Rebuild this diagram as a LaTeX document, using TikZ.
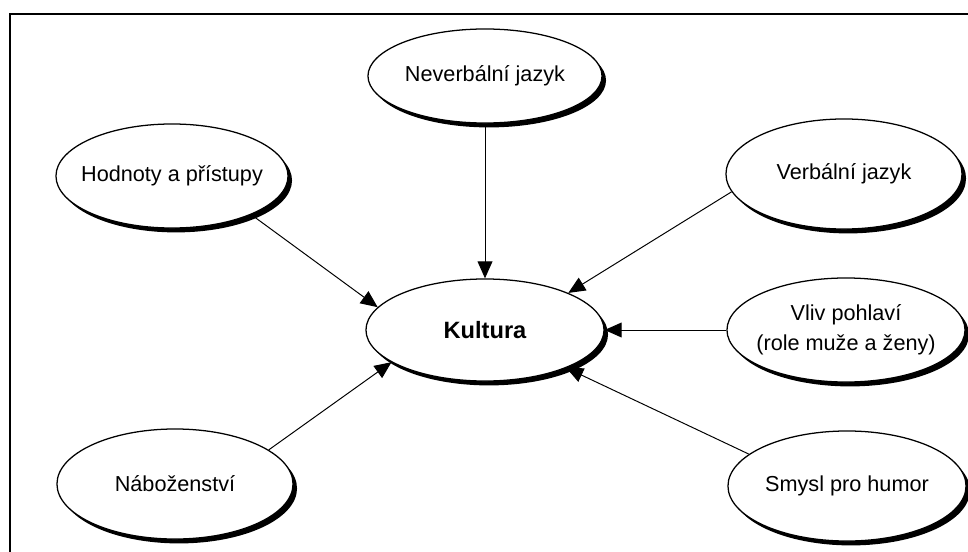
\documentclass[tikz,border=0pt]{standalone}
\usepackage{fontspec}
\setmainfont{Liberation Sans}
\usetikzlibrary{arrows.meta,shapes.geometric,shadows}
\tikzset{
  bublina/.style={ellipse, draw=black, line width=0.9pt, fill=white, inner sep=0pt,
    drop shadow={shadow xshift=1mm, shadow yshift=-1.1mm, fill=black, opacity=1}},
  sipka/.style={-{Triangle[length=12pt,width=10.5pt]}, line width=0.7pt},
  every label/.style={font=\fontsize{15.4}{21}\selectfont, align=center}
}
\begin{document}
\begin{tikzpicture}[x=0.025cm,y=-0.025cm]
    \useasboundingbox (0,0) rectangle (968,552);
    % Rámeček
    \draw[line width=1.2pt] (968,14) -- (10,14) -- (10,552);

    % Ovály kolem
    \node[bublina, minimum width=5.85cm, minimum height=2.35cm, label=center:Neverbální jazyk] (never) at (485,76) {};
    \node[bublina, minimum width=5.8cm, minimum height=2.6cm, label=center:Hodnoty a přístupy] (hodnoty) at (172,176) {};
    \node[bublina, minimum width=5.9cm, minimum height=2.75cm, label=center:Verbální jazyk] (verbal) at (844,174) {};
    \node[bublina, minimum width=5.95cm, minimum height=2.6cm, label={center:Vliv pohlaví\\(role muže a ženy)}] (vliv) at (846,330) {};
    \node[bublina, minimum width=5.9cm, minimum height=2.75cm, label=center:Náboženství] (nabozenstvi) at (175,484) {};
    \node[bublina, minimum width=5.95cm, minimum height=2.75cm, label=center:Smysl pro humor] (humor) at (847,486) {};

    % Střed
    \node[bublina, minimum width=5.95cm, minimum height=2.55cm,
      label={[font=\fontsize{16.8}{20}\selectfont\bfseries]center:Kultura}] (kultura) at (485,330) {};

    % Šipky ke středu
    \draw[sipka] (never) -- (kultura);
    \draw[sipka] (hodnoty.-26) -- (kultura.168);
    \draw[sipka] (verbal.189) -- (kultura.24);
    \draw[sipka] (vliv) -- (kultura);
    \draw[sipka] (nabozenstvi.20) -- (kultura.199);
    \draw[sipka] (humor.162) -- (kultura.-25);
\end{tikzpicture}
\end{document}
